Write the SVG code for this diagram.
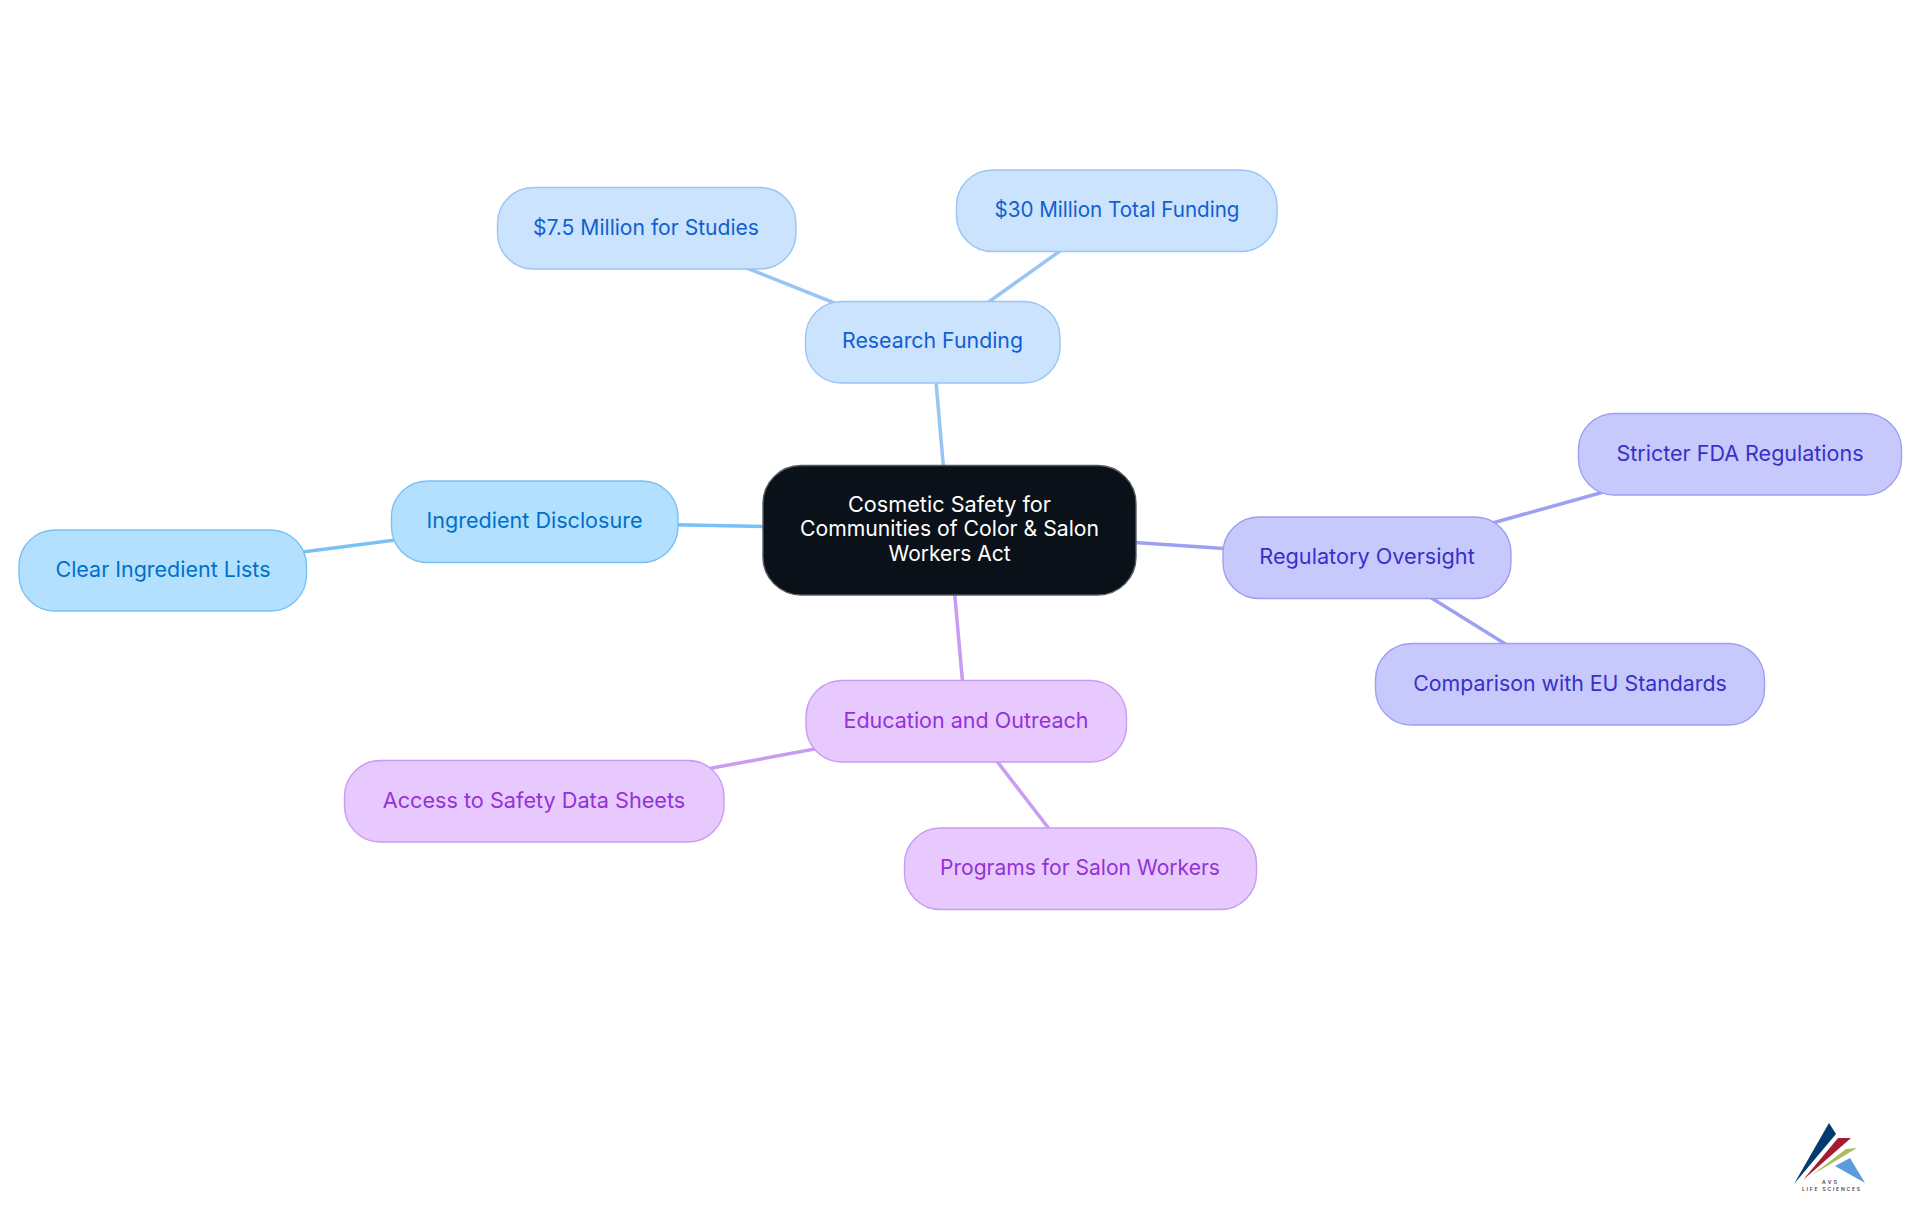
<svg xmlns="http://www.w3.org/2000/svg" width="1920" height="1215" viewBox="0 0 1920 1215">
<style>
text{font-family:"Inter","Noto Sans","Liberation Sans",sans-serif;font-size:21.5px;text-anchor:middle}
rect{stroke-width:1.4}
.c line{stroke-width:3.5;fill:none}
.a rect{fill:#b3e0ff;stroke:#79c0f5}.a text{fill:#0070c9}
.b rect{fill:#cce3fd;stroke:#99c5f2}.b text{fill:#1060d0}
.r rect{fill:#c7c9fd;stroke:#9d9ff0}.r text{fill:#3730c8}
.e rect{fill:#e7c9fe;stroke:#c79cf2}.e text{fill:#9332d8}
#root rect{fill:#0b1119;stroke:#555a60}#root text{fill:#fff}
.logo text{font-size:5px;fill:#444;font-weight:600}
</style>
<rect width="1920" height="1215" fill="#fff" style="stroke:none"/>
<g id="connectors" class="c">
<line x1="949" y1="530" x2="535" y2="522" stroke="#79c0f5"/>
<line x1="535" y1="522" x2="163" y2="570" stroke="#79c0f5"/>
<line x1="949" y1="530" x2="932.5" y2="342" stroke="#99c5f2"/>
<line x1="932.5" y1="342" x2="646" y2="228" stroke="#99c5f2"/>
<line x1="932.5" y1="342" x2="1117.5" y2="210" stroke="#99c5f2"/>
<line x1="949" y1="530" x2="1367" y2="558" stroke="#9d9ff0"/>
<line x1="1367" y1="558" x2="1740" y2="454" stroke="#9d9ff0"/>
<line x1="1367" y1="558" x2="1570" y2="684" stroke="#9d9ff0"/>
<line x1="949" y1="530" x2="966" y2="721" stroke="#c79cf2"/>
<line x1="966" y1="721" x2="534" y2="801" stroke="#c79cf2"/>
<line x1="966" y1="721" x2="1080" y2="869" stroke="#c79cf2"/>
</g>
<g id="root"><rect x="763" y="465.5" width="373" height="129.5" rx="38"/>
<text x="949.5" y="511.5" textLength="203" lengthAdjust="spacingAndGlyphs">Cosmetic Safety for</text>
<text x="949.5" y="536" textLength="299" lengthAdjust="spacingAndGlyphs">Communities of Color &amp; Salon</text>
<text x="949.5" y="560.5" textLength="122" lengthAdjust="spacingAndGlyphs">Workers Act</text></g>
<g id="ingredient" class="a"><rect x="391.5" y="481" width="286.5" height="81.5" rx="36"/><text x="534.5" y="528" textLength="216" lengthAdjust="spacingAndGlyphs">Ingredient Disclosure</text></g>
<g id="clear" class="a"><rect x="19" y="530" width="287.5" height="81" rx="36"/><text x="163" y="577" textLength="215" lengthAdjust="spacingAndGlyphs">Clear Ingredient Lists</text></g>
<g id="research" class="b"><rect x="805.5" y="301.5" width="254.5" height="81.5" rx="36"/><text x="932.5" y="348" textLength="181" lengthAdjust="spacingAndGlyphs">Research Funding</text></g>
<g id="studies" class="b"><rect x="497.5" y="187.5" width="298.5" height="81.5" rx="36"/><text x="646" y="235" textLength="226" lengthAdjust="spacingAndGlyphs">$7.5 Million for Studies</text></g>
<g id="total" class="b"><rect x="956.5" y="170" width="320.5" height="81.5" rx="36"/><text x="1117" y="217" textLength="245" lengthAdjust="spacingAndGlyphs">$30 Million Total Funding</text></g>
<g id="regulatory" class="r"><rect x="1223" y="517" width="288" height="81.5" rx="36"/><text x="1367" y="564" textLength="215.5" lengthAdjust="spacingAndGlyphs">Regulatory Oversight</text></g>
<g id="fda" class="r"><rect x="1578.5" y="413.5" width="323" height="81.5" rx="36"/><text x="1740" y="461" textLength="247" lengthAdjust="spacingAndGlyphs">Stricter FDA Regulations</text></g>
<g id="eu" class="r"><rect x="1375.5" y="643.5" width="389" height="81.5" rx="36"/><text x="1570" y="690.5" textLength="313.5" lengthAdjust="spacingAndGlyphs">Comparison with EU Standards</text></g>
<g id="education" class="e"><rect x="806" y="680.5" width="320.5" height="81.5" rx="36"/><text x="966" y="728" textLength="245" lengthAdjust="spacingAndGlyphs">Education and Outreach</text></g>
<g id="sheets" class="e"><rect x="344.5" y="760.5" width="379.5" height="81.5" rx="36"/><text x="534" y="808" textLength="302.5" lengthAdjust="spacingAndGlyphs">Access to Safety Data Sheets</text></g>
<g id="programs" class="e"><rect x="904.5" y="828" width="352" height="81.5" rx="36"/><text x="1080" y="875" textLength="280" lengthAdjust="spacingAndGlyphs">Programs for Salon Workers</text></g>
<g id="logo" class="logo">
<polygon points="1794,1184 1829,1123 1836,1134" fill="#053a70"/>
<polygon points="1803,1180 1838,1138 1851,1138" fill="#a51c30"/>
<polygon points="1812,1175 1846,1149 1857,1148" fill="#a9bb5f"/>
<polygon points="1835,1166 1850,1158 1865,1183" fill="#5b9bdc"/>
<text x="1829.5" y="1184" textLength="15" lengthAdjust="spacing">AVS</text>
<text x="1831" y="1191" textLength="58" lengthAdjust="spacing">LIFE SCIENCES</text>
</g>
</svg>
